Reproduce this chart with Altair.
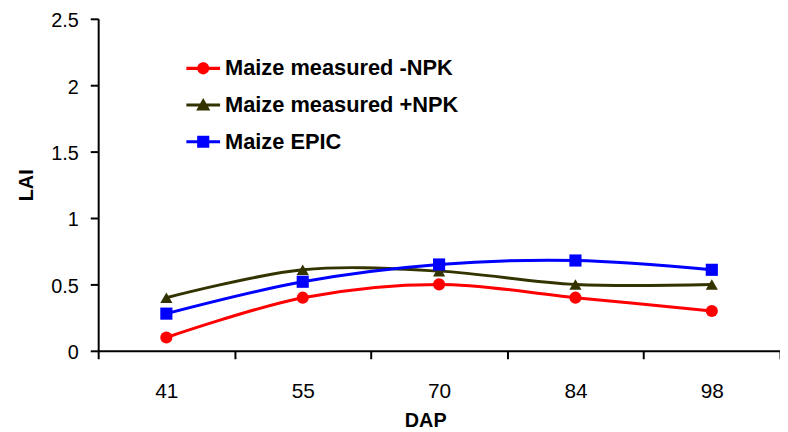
import altair as alt
import pandas as pd

# ---- data ----
dap = ["41", "55", "70", "84", "98"]
series_names = ["Maize measured -NPK", "Maize measured +NPK", "Maize EPIC"]
lai_minus_npk = [0.10, 0.40, 0.50, 0.40, 0.30]
lai_plus_npk = [0.40, 0.61, 0.60, 0.50, 0.50]
lai_epic = [0.28, 0.52, 0.65, 0.68, 0.61]
y_ticks = [0, 0.5, 1, 1.5, 2, 2.5]

colors = ["#FF0000", "#333300", "#0000FF"]
shapes = ["circle", "triangle-up", "square"]
# legend glyphs: line segment + marker (unit coordinates)
legend_paths = [
    "M-1,-0.09H1V0.09H-1Z M-0.36,0A0.36,0.36 0 1,1 0.36,0A0.36,0.36 0 1,1 -0.36,0Z",
    "M-1,-0.09H1V0.09H-1Z M0,-0.42L0.42,0.32L-0.42,0.32Z",
    "M-1,-0.09H1V0.09H-1Z M-0.36,-0.36H0.36V0.36H-0.36Z",
]

rows = []
for name, vals in zip(series_names, [lai_minus_npk, lai_plus_npk, lai_epic]):
    for d, v in zip(dap, vals):
        rows.append({"DAP": d, "LAI": v, "Series": name})
df = pd.DataFrame(rows)

FONT_TICK = "Liberation Sans Narrow, Liberation Sans, Arial, sans-serif"
FONT_BOLD = "Liberation Sans, Arial, sans-serif"

x_enc = alt.X(
    "DAP:O",
    sort=dap,
    scale=alt.Scale(type="band", paddingInner=0, paddingOuter=0),
    axis=alt.Axis(
        title="DAP",
        labelAngle=0,
        tickBand="extent",
        labelPadding=22,
        titlePadding=9,
        titleX=330,
    ),
)
y_enc = alt.Y(
    "LAI:Q",
    scale=alt.Scale(domain=[0, 2.5], nice=False, zero=True),
    axis=alt.Axis(
        title="LAI",
        values=y_ticks,
        format="~g",
        labelPadding=12,
        labelOffset=2,
        labelFontSize=20,
        titlePadding=14,
    ),
)

color_scale = alt.Scale(domain=series_names, range=colors)

lines = alt.Chart(df).mark_line(interpolate="cardinal", strokeWidth=3).encode(
    x=x_enc,
    y=y_enc,
    color=alt.Color("Series:N", scale=color_scale, legend=None),
)

points = alt.Chart(df).mark_point(filled=True, size=150, opacity=1).encode(
    x=x_enc,
    y=y_enc,
    color=alt.Color("Series:N", scale=color_scale, legend=None),
    shape=alt.Shape("Series:N", scale=alt.Scale(domain=series_names, range=shapes), legend=None),
)

legend_def = alt.Legend(
    title=None,
    orient="none",
    legendX=89,
    legendY=33,
    padding=0,
    rowPadding=9,
    labelOffset=5,
    labelLimit=0,
    labelFont=FONT_BOLD,
    labelFontSize=22,
    labelFontWeight="bold",
    labelColor="black",
    symbolOpacity=1,
    symbolStrokeWidth=0,
    symbolSize=1156,
)

legend_layer = alt.Chart(df).mark_point(filled=True, size=1156, opacity=0).encode(
    x=x_enc,
    y=y_enc,
    color=alt.Color("Series:N", scale=color_scale, legend=legend_def),
    shape=alt.Shape("Series:N", scale=alt.Scale(domain=series_names, range=legend_paths), legend=legend_def),
)

chart = (
    alt.layer(lines, points, legend_layer)
    .resolve_scale(color="independent", shape="independent")
    .properties(
        width=688,
        height=335,
        autosize=alt.AutoSizeParams(type="none"),
        padding={"left": 91, "top": 9, "right": 0, "bottom": 78},
    )
    .configure_view(stroke=None)
    .configure_axis(
        grid=False,
        domainColor="black",
        domainWidth=2,
        tickColor="black",
        tickWidth=2,
        tickSize=8,
        labelColor="black",
        labelFont=FONT_TICK,
        labelFontSize=21,
        titleFont=FONT_BOLD,
        titleFontSize=20,
        titleFontWeight="bold",
        titleColor="black",
    )
)

chart.save("out.html", embed_options={"renderer": "svg", "actions": False})
